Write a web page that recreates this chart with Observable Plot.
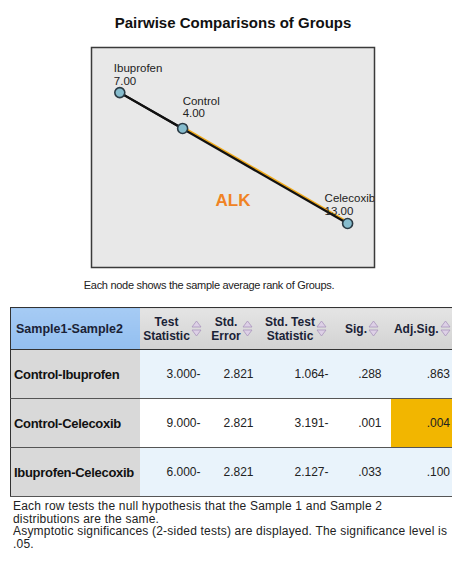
<!DOCTYPE html>
<html>
<head>
<meta charset="utf-8">
<script src="https://cdn.jsdelivr.net/npm/d3@7"></script>
<script src="https://cdn.jsdelivr.net/npm/@observablehq/plot@0.6"></script>
<style>
  html, body { margin: 0; padding: 0; background: #fff; }
  #page { position: relative; width: 452px; height: 561px; overflow: hidden; font-family: "Liberation Sans", Arial, sans-serif; color: #222; }
  #title { position: absolute; left: 0; width: 466px; top: 14px; text-align: center; font-weight: bold; font-size: 15px; line-height: 17px; color: #111; }
  #chart { position: absolute; left: 0; top: 30px; }
  #caption { position: absolute; left: 0; width: 418px; top: 278px; text-align: center; font-size: 11px; line-height: 14px; letter-spacing: -0.3px; color: #222; }
  #tbl { position: absolute; left: 10px; top: 307px; width: 444px; border-collapse: collapse; table-layout: fixed; border: 1.5px solid #333; }
  #tbl th { height: 41px; padding: 0; font-size: 12px; line-height: 14px; font-weight: bold; color: #1a2236; white-space: nowrap;
            background: linear-gradient(#e4e4e4, #d2d2d2); border-bottom: 1.5px solid #333; }
  #tbl th.first { background: linear-gradient(#a6cbf4, #93bff0); text-align: left; padding-left: 5px; font-size: 12.5px; }
  #tbl td { height: 48px; padding: 0 5px 0 0; font-size: 12px; text-align: right; border-bottom: 1px solid #555; color: #222; white-space: nowrap; }
  #tbl td.first { background: #d9d9d9; text-align: left; padding-left: 3px; font-weight: bold; font-size: 13px; letter-spacing: -0.3px; color: #111; overflow: hidden; }
  .hwrap { display: flex; align-items: center; justify-content: center; }
  .htext { text-align: center; white-space: pre; }
  .arrow { margin-left: 1px; }
  #foot { position: absolute; left: 13px; top: 500px; width: 445px; font-size: 12px; line-height: 12.6px; letter-spacing: 0.2px; color: #222; white-space: nowrap; }
</style>
</head>
<body>
<div id="page">
  <div id="title"></div>
  <div id="chart"></div>
  <div id="caption"></div>
  <table id="tbl"></table>
  <div id="foot"></div>
</div>
<script>
// ---------- data ----------
const titleText = "Pairwise Comparisons of Groups";
const captionText = "Each node shows the sample average rank of Groups.";
const groupNames = ["Ibuprofen", "Control", "Celecoxib"];
const meanRanks = [7.00, 4.00, 13.00];
// node layout coordinates in the network diagram (0..1 units)
const nodeX = [0.10, 0.322, 0.905];
const nodeY = [0.795, 0.632, 0.20];
const panelLabel = "ALK";

const pairLabels = ["Control-Ibuprofen", "Control-Celecoxib", "Ibuprofen-Celecoxib"];
const testStatistic = [-3.000, -9.000, -6.000];
const stdError = [2.821, 2.821, 2.821];
const stdTestStatistic = [-1.064, -3.191, -2.127];
const sig = [0.288, 0.001, 0.033];
const adjSig = [0.863, 0.004, 0.100];
const headerLabels = ["Sample1-Sample2", "Test\nStatistic", "Std.\nError", "Std. Test\nStatistic", "Sig.", "Adj.Sig."];
const alpha = 0.05;
const footLines = [
  "Each row tests the null hypothesis that the Sample 1 and Sample 2",
  "distributions are the same.",
  "Asymptotic significances (2-sided tests) are displayed. The significance level is",
  ".05."
];

// ---------- build ----------
document.getElementById("title").textContent = titleText;
document.getElementById("caption").textContent = captionText;
document.getElementById("foot").innerHTML = footLines.map(s => `<div>${s}</div>`).join("");

const nodes = groupNames.map((name, i) => ({name, rank: meanRanks[i], x: nodeX[i], y: nodeY[i]}));
const byName = Object.fromEntries(nodes.map(n => [n.name, n]));
const links = pairLabels.map((p, i) => {
  const [a, b] = p.split("-");
  return {a: byName[a], b: byName[b], significant: adjSig[i] < alpha};
});

const innerW = 452 - 91 - 78;
const innerH = 240 - 17 - 3;
const labelShiftPx = {Ibuprofen: -6, Control: 0, Celecoxib: -23};
const labelLiftPx = {Ibuprofen: 8, Control: 11, Celecoxib: 9};

const chart = Plot.plot({
  width: 452,
  height: 240,
  marginLeft: 91,
  marginRight: 78,
  marginTop: 17,
  marginBottom: 3,
  x: {domain: [0, 1], axis: null},
  y: {domain: [0, 1], axis: null},
  style: {fontFamily: "'Liberation Sans', Arial, sans-serif", background: "transparent", overflow: "visible"},
  marks: [
    Plot.frame({fill: "#e8e8e8", stroke: "#3a3a3a", strokeWidth: 1.5}),
    Plot.link(links.filter(d => d.significant), {
      x1: d => d.a.x, y1: d => d.a.y, x2: d => d.b.x, y2: d => d.b.y,
      stroke: "#f0aa1a", strokeWidth: 3, dy: -1
    }),
    Plot.link(links.filter(d => !d.significant), {
      x1: d => d.a.x, y1: d => d.a.y, x2: d => d.b.x, y2: d => d.b.y,
      stroke: "#111", strokeWidth: 2.2
    }),
    Plot.text([panelLabel], {
      text: d => d, frameAnchor: "bottom", dy: -62,
      fill: "#f08324", fontSize: 17, fontWeight: "bold"
    }),
    Plot.dot(nodes, {x: "x", y: "y", r: 5, fill: "#86bccd", stroke: "#2a3a44", strokeWidth: 1.6}),
    Plot.text(nodes, {
      x: d => d.x + labelShiftPx[d.name] / innerW,
      y: d => d.y + labelLiftPx[d.name] / innerH,
      text: d => d.name + "\n" + d.rank.toFixed(2),
      textAnchor: "start", lineAnchor: "bottom",
      fontSize: 11.5, lineHeight: 1.1, fill: "#222", clip: true
    })
  ]
});
document.getElementById("chart").appendChild(chart);

// table
const fmtStat = v => Math.abs(v).toFixed(3) + (v < 0 ? "-" : "");
const fmtP = v => v.toFixed(3).replace(/^0/, "");
const colWidths = [129, 66, 53, 75, 57, 64];
const arrowSvg = `<svg class="arrow" width="11" height="17" viewBox="0 0 11 17"><path d="M5.5 1 L10 7 L1 7 Z" fill="#ddd0e6" stroke="#a996bd" stroke-width="0.8"/><path d="M1 10 L10 10 L5.5 16 Z" fill="#ddd0e6" stroke="#a996bd" stroke-width="0.8"/></svg>`;
const tbl = document.getElementById("tbl");
let html = "<colgroup>" + colWidths.map(w => `<col style="width:${w}px">`).join("") + "</colgroup>";
html += "<tr>" + headerLabels.map((h, i) => i === 0
  ? `<th class="first">${h}</th>`
  : `<th><div class="hwrap"><div class="htext">${h}</div>${arrowSvg}</div></th>`).join("") + "</tr>";
pairLabels.forEach((p, i) => {
  const bg = i % 2 === 0 ? "#e9f3fb" : "#ffffff";
  const vals = [fmtStat(testStatistic[i]), stdError[i].toFixed(3), fmtStat(stdTestStatistic[i]), fmtP(sig[i]), fmtP(adjSig[i])];
  const pads = [5, 5, 5, 9, 4];
  html += `<tr><td class="first">${p}</td>` + vals.map((v, j) => {
    const hl = j === 4 && adjSig[i] < alpha;
    return `<td style="background:${hl ? "#f2b600" : bg};padding-right:${pads[j]}px">${v}</td>`;
  }).join("") + "</tr>";
});
tbl.innerHTML = html;
</script>
</body>
</html>
